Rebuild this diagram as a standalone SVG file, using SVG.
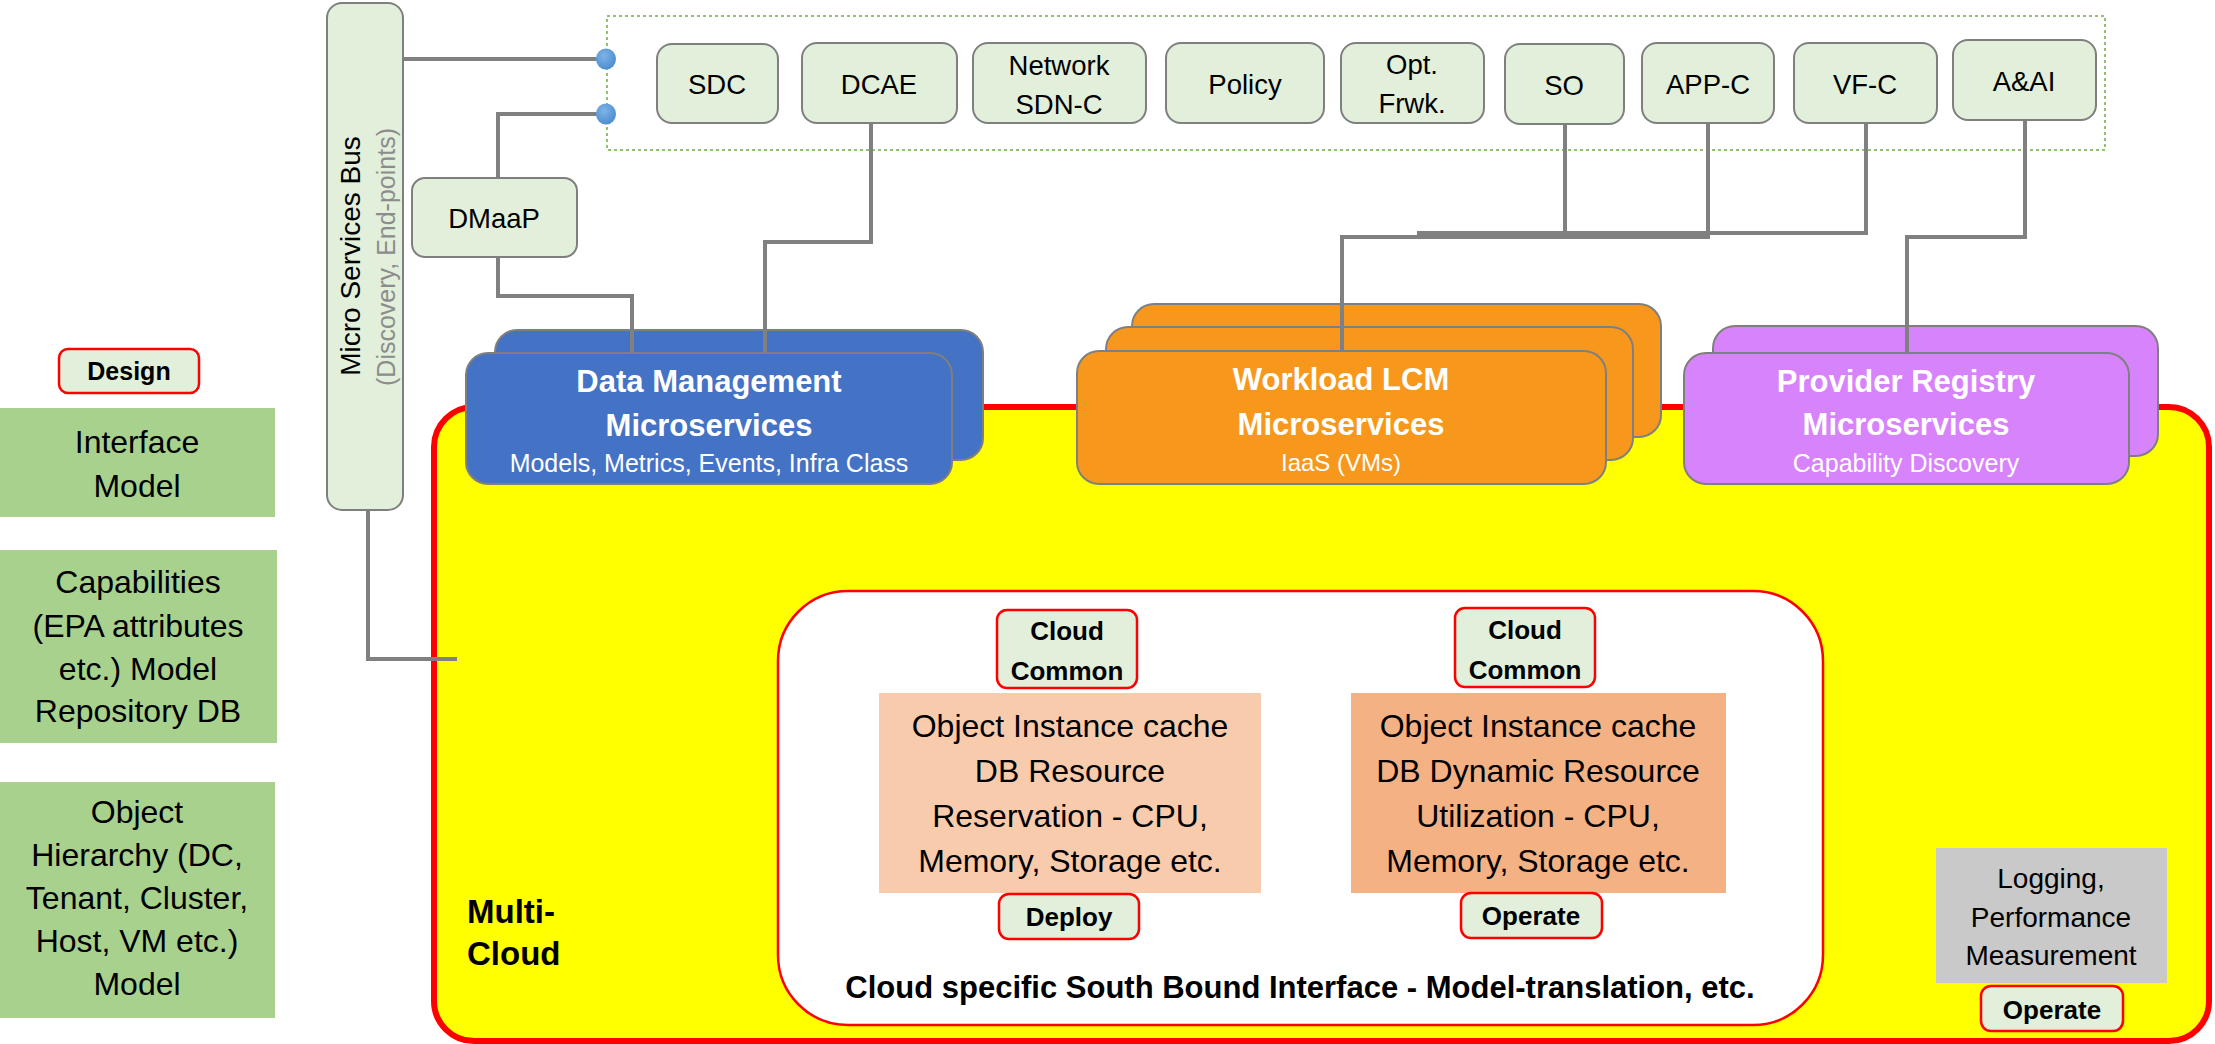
<svg xmlns="http://www.w3.org/2000/svg" width="2215" height="1044" viewBox="0 0 2215 1044">
<defs>
<radialGradient id="dot" cx="40%" cy="35%" r="70%">
<stop offset="0" stop-color="#7fb3e6"/>
<stop offset="1" stop-color="#4a8bd0"/>
</radialGradient>
<style>
text{font-family:"Liberation Sans",Arial,sans-serif;text-anchor:middle;fill:#000}
.lg{fill:#e2efda;stroke:#7f7f7f;stroke-width:2}
.badge{fill:#e2efda;stroke:#ff0000;stroke-width:2.5}
.gm{fill:#a9d18e}
.t26{font-size:26px}
.t27{font-size:27.5px}
.t32{font-size:32px}
.b{font-weight:bold}
.w{fill:#ffffff}
.blue{fill:#4472c4;stroke:#7f7f7f;stroke-width:2}
.org{fill:#f7981d;stroke:#7f7f7f;stroke-width:2}
.pur{fill:#d783fc;stroke:#7f7f7f;stroke-width:2}
.conn{fill:none;stroke:#808080;stroke-width:4}
</style>
</defs>
<rect width="2215" height="1044" fill="#ffffff"/>

<!-- left design column -->
<g id="design">
<rect class="badge" x="59" y="349" width="140" height="44" rx="9"/>
<text class="b" x="129" y="380" font-size="25">Design</text>
</g>
<g id="interface-model">
<rect class="gm" x="0" y="408" width="275" height="109"/>
<text class="t32" x="137" y="453">Interface</text>
<text class="t32" x="137" y="497">Model</text>
</g>
<g id="capabilities">
<rect class="gm" x="0" y="550" width="277" height="193"/>
<text class="t32" x="138" y="593">Capabilities</text>
<text class="t32" x="138" y="637">(EPA attributes</text>
<text class="t32" x="138" y="680">etc.) Model</text>
<text class="t32" x="138" y="722">Repository DB</text>
</g>
<g id="object-hierarchy">
<rect class="gm" x="0" y="782" width="275" height="236"/>
<text class="t32" x="137" y="823">Object</text>
<text class="t32" x="137" y="866">Hierarchy (DC,</text>
<text class="t32" x="137" y="909">Tenant, Cluster,</text>
<text class="t32" x="137" y="952">Host, VM etc.)</text>
<text class="t32" x="137" y="995">Model</text>
</g>

<!-- multi-cloud container -->
<g id="multi-cloud">
<rect x="434" y="407" width="1775" height="634" rx="40" fill="#ffff00" stroke="#ff0000" stroke-width="6"/>
<text class="b" x="467" y="923" font-size="33" style="text-anchor:start">Multi-</text>
<text class="b" x="467" y="965" font-size="33" style="text-anchor:start">Cloud</text>
</g>

<!-- micro services bus -->
<g id="micro-services-bus">
<rect class="lg" x="327" y="3" width="76" height="507" rx="15"/>
<text transform="translate(360,256) rotate(-90)" font-size="28">Micro Services Bus</text>
<text transform="translate(395,257) rotate(-90)" font-size="25" style="fill:#8c8c8c">(Discovery, End-points)</text>
</g>

<!-- ONAP components group -->
<g id="onap-components">
<rect x="607" y="16" width="1498" height="134" fill="none" stroke="#70ad47" stroke-width="1.5" stroke-dasharray="3 3"/>
</g>
<g id="sdc"><rect class="lg" x="657" y="44" width="121" height="79" rx="15"/><text class="t27" x="717" y="94">SDC</text></g>
<g id="dcae"><rect class="lg" x="802" y="43" width="155" height="80" rx="15"/><text class="t27" x="879" y="94">DCAE</text></g>
<g id="sdnc"><rect class="lg" x="973" y="43" width="173" height="80" rx="15"/><text class="t27" x="1059" y="75">Network</text><text class="t27" x="1059" y="114">SDN-C</text></g>
<g id="policy"><rect class="lg" x="1166" y="43" width="158" height="80" rx="15"/><text class="t27" x="1245" y="94">Policy</text></g>
<g id="opt-frwk"><rect class="lg" x="1341" y="43" width="143" height="80" rx="15"/><text class="t27" x="1412" y="74">Opt.</text><text class="t27" x="1412" y="113">Frwk.</text></g>
<g id="so"><rect class="lg" x="1505" y="44" width="119" height="80" rx="15"/><text class="t27" x="1564" y="95">SO</text></g>
<g id="appc"><rect class="lg" x="1642" y="43" width="132" height="80" rx="15"/><text class="t27" x="1708" y="94">APP-C</text></g>
<g id="vfc"><rect class="lg" x="1794" y="43" width="143" height="80" rx="15"/><text class="t27" x="1865" y="94">VF-C</text></g>
<g id="aai"><rect class="lg" x="1953" y="40" width="143" height="80" rx="15"/><text class="t27" x="2024" y="91">A&amp;AI</text></g>

<g id="dmaap"><rect class="lg" x="412" y="178" width="165" height="79" rx="13"/><text class="t27" x="494" y="228">DMaaP</text></g>

<!-- microservice stacks -->
<g id="data-management">
<rect class="blue" x="495" y="330" width="488" height="130" rx="22"/>
<rect class="blue" x="466" y="353" width="486" height="131" rx="22"/>
<text class="b w" x="709" y="392" font-size="31">Data Management</text>
<text class="b w" x="709" y="436" font-size="31">Microservices</text>
<text class="w" x="709" y="472" font-size="25">Models, Metrics, Events, Infra Class</text>
</g>
<g id="workload-lcm">
<rect class="org" x="1132" y="304" width="529" height="133" rx="22"/>
<rect class="org" x="1106" y="327" width="527" height="133" rx="22"/>
<rect class="org" x="1077" y="351" width="529" height="133" rx="22"/>
<text class="b w" x="1341" y="390" font-size="31">Workload LCM</text>
<text class="b w" x="1341" y="435" font-size="31">Microservices</text>
<text class="w" x="1341" y="471" font-size="24">IaaS (VMs)</text>
</g>
<g id="provider-registry">
<rect class="pur" x="1713" y="326" width="445" height="130" rx="22"/>
<rect class="pur" x="1684" y="353" width="445" height="131" rx="22"/>
<text class="b w" x="1906" y="392" font-size="31">Provider Registry</text>
<text class="b w" x="1906" y="435" font-size="31">Microservices</text>
<text class="w" x="1906" y="472" font-size="25">Capability Discovery</text>
</g>

<!-- inner SBI box -->
<g id="south-bound-interface">
<rect x="778" y="591" width="1045" height="434" rx="70" fill="#ffffff" stroke="#ff0000" stroke-width="2.5"/>
<text class="b" x="1300" y="998" font-size="31">Cloud specific South Bound Interface - Model-translation, etc.</text>
</g>
<g id="cloud-common-1"><rect class="badge" x="997" y="610" width="140" height="78" rx="10"/><text class="b t26" x="1067" y="640">Cloud</text><text class="b t26" x="1067" y="680">Common</text></g>
<g id="cloud-common-2"><rect class="badge" x="1455" y="608" width="140" height="79" rx="10"/><text class="b t26" x="1525" y="639">Cloud</text><text class="b t26" x="1525" y="679">Common</text></g>
<g id="reservation-cache">
<rect x="879" y="693" width="382" height="200" fill="#f8cbad"/>
<text class="t32" x="1070" y="737">Object Instance cache</text>
<text class="t32" x="1070" y="782">DB Resource</text>
<text class="t32" x="1070" y="827">Reservation - CPU,</text>
<text class="t32" x="1070" y="872">Memory, Storage etc.</text>
</g>
<g id="utilization-cache">
<rect x="1351" y="693" width="375" height="200" fill="#f4b183"/>
<text class="t32" x="1538" y="737">Object Instance cache</text>
<text class="t32" x="1538" y="782">DB Dynamic Resource</text>
<text class="t32" x="1538" y="827">Utilization - CPU,</text>
<text class="t32" x="1538" y="872">Memory, Storage etc.</text>
</g>
<g id="deploy"><rect class="badge" x="999" y="894" width="140" height="45" rx="10"/><text class="b t26" x="1069" y="926">Deploy</text></g>
<g id="operate-1"><rect class="badge" x="1461" y="893" width="141" height="45" rx="10"/><text class="b t26" x="1531" y="925">Operate</text></g>

<g id="logging">
<rect x="1936" y="848" width="231" height="135" fill="#c9c9c9"/>
<text x="2051" y="888" font-size="28">Logging,</text>
<text x="2051" y="927" font-size="28">Performance</text>
<text x="2051" y="965" font-size="28">Measurement</text>
</g>
<g id="operate-2"><rect class="badge" x="1981" y="986" width="142" height="45" rx="10"/><text class="b t26" x="2052" y="1019">Operate</text></g>

<!-- connectors -->
<g id="connectors">
<path class="conn" d="M403,59 H600"/>
<path class="conn" d="M600,114 H498 V178"/>
<path class="conn" d="M498,257 V296 H632 V353"/>
<path class="conn" d="M871,123 V242 H765 V353"/>
<path class="conn" d="M1565,124 V237 H1342 V351"/>
<path class="conn" d="M1708,123 V237 H1560"/>
<path class="conn" d="M1866,123 V233 H1417"/>
<path class="conn" d="M2025,120 V237 H1907 V353"/>
<path class="conn" d="M368,510 V659 H457"/>
<ellipse cx="606" cy="59" rx="10" ry="10.5" fill="url(#dot)"/>
<ellipse cx="606" cy="114" rx="10" ry="10.5" fill="url(#dot)"/>
</g>
</svg>
